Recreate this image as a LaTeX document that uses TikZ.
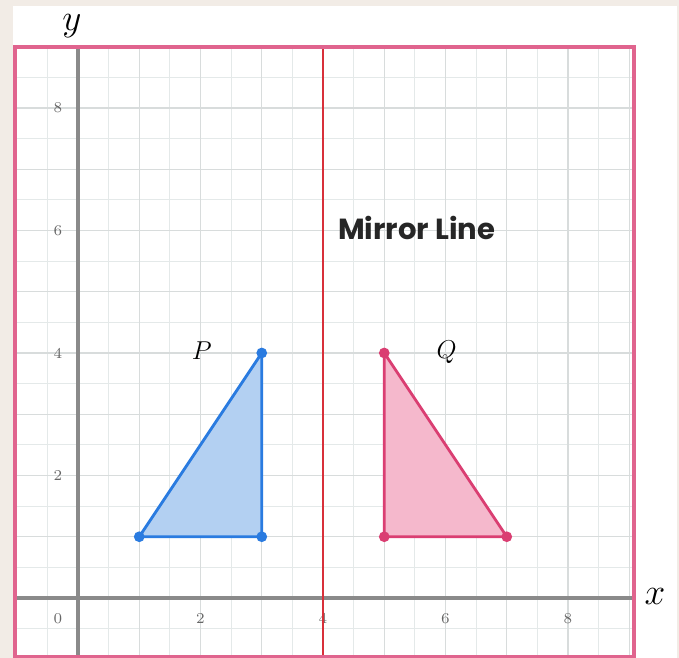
\documentclass[tikz,border=0pt]{standalone}
\usepackage{fontspec}
\newfontfamily\labfont{Poppins}
\definecolor{bgbeige}{HTML}{F2ECE6}
\definecolor{boxpink}{HTML}{E0648E}
\definecolor{mirrorred}{HTML}{D8303A}
\definecolor{gridminor}{HTML}{E4E9E9}
\definecolor{gridmajor}{HTML}{D8DCDC}
\definecolor{axisgray}{HTML}{8A8A8A}
\definecolor{pblue}{HTML}{2A7BE0}
\definecolor{pfill}{HTML}{B3D0F2}
\definecolor{qpink}{HTML}{DA3E72}
\definecolor{qfill}{HTML}{F5B8CC}
\tikzset{
  ticklab/.style={font=\scriptsize, text=gray!80!black, inner sep=0pt},
  vdot/.style={circle, fill, inner sep=0pt, minimum size=5pt},
  trilab/.style={font=\large, inner sep=0pt},
}
\begin{document}
\begin{tikzpicture}[x=1cm,y=1cm]
\useasboundingbox (-1.2735,-0.9796) rectangle (9.812,9.763);
\fill[bgbeige] (-1.2735,-0.9796) rectangle (9.812,9.763);
\fill[white] (-1.061,-0.9796) rectangle (9.780,9.665);
% grid
\begin{scope}
\clip (-1.03,-0.96) rectangle (9.08,9.0);
\draw[gridminor, line width=0.5pt, step=0.5] (-1,-1) grid (9.5,9.5);
\draw[gridmajor, line width=0.5pt, step=1] (-1,-1) grid (9.5,9.5);
\end{scope}
% axes
\coordinate (xa0) at (-1.03,0);
\coordinate (xa1) at (9.08,0);
\coordinate (ya0) at (0,-0.96);
\coordinate (ya1) at (0,9.0);
\draw[axisgray, line width=1.6pt] (xa0) -- (xa1);
\draw[axisgray, line width=1.6pt] (ya0) -- (ya1);
% tick labels
\node[ticklab] (t0) at (-0.33,-0.33) {0};
\node[ticklab] (tx2) at (2,-0.33) {2};
\node[ticklab] (tx4) at (4,-0.33) {4};
\node[ticklab] (tx6) at (6,-0.33) {6};
\node[ticklab] (tx8) at (8,-0.33) {8};
\node[ticklab] (ty2) at (-0.33,2) {2};
\node[ticklab] (ty4) at (-0.33,4) {4};
\node[ticklab] (ty6) at (-0.33,6) {6};
\node[ticklab] (ty8) at (-0.33,8) {8};
% axis names
\node[font=\LARGE, inner sep=0pt] (ylab) at (-0.1,9.34) {$y$};
\node[font=\LARGE, inner sep=0pt] (xlab) at (9.42,0.02) {$x$};
% mirror line
\coordinate (m0) at (4,-0.96);
\coordinate (m1) at (4,9.0);
\draw[mirrorred, line width=1.2pt] (m0) -- (m1);
\node[font=\labfont\bfseries\fontsize{13.5}{16}\selectfont, inner sep=0pt, text=black!85] (mlab) at (5.53,6.04) {Mirror Line};
% triangle P
\coordinate (p1) at (1,1);
\coordinate (p2) at (3,1);
\coordinate (p3) at (3,4);
\filldraw[fill=pfill, draw=pblue, line width=1.3pt, line join=round] (p1) -- (p2) -- (p3) -- cycle;
\foreach \v in {p1,p2,p3} \node[vdot, pblue] at (\v) {};
\node[trilab] (plab) at (2.02,4.03) {$P$};
% triangle Q
\coordinate (q1) at (5,1);
\coordinate (q2) at (7,1);
\coordinate (q3) at (5,4);
\filldraw[fill=qfill, draw=qpink, line width=1.3pt, line join=round] (q1) -- (q2) -- (q3) -- cycle;
\foreach \v in {q1,q2,q3} \node[vdot, qpink] at (\v) {};
\node[trilab] (qlab) at (6.02,4.02) {$Q$};
% pink frame
\draw[boxpink, line width=1.9pt] (-1.03,-0.96) rectangle (9.08,9.0);
\end{tikzpicture}
\end{document}
